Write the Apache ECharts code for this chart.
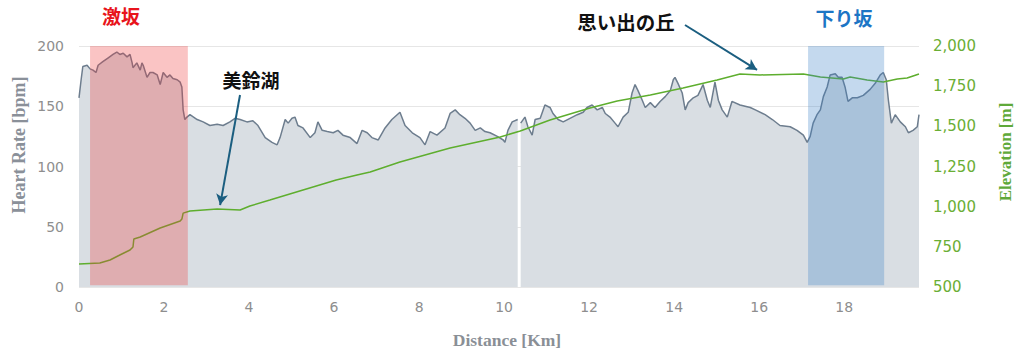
<!DOCTYPE html>
<html>
<head>
<meta charset="utf-8">
<script src="https://cdn.jsdelivr.net/npm/echarts@6/dist/echarts.min.js"></script>
<style>
html,body{margin:0;padding:0;background:#fff;}
#chart{width:1024px;height:357px;}
</style>
</head>
<body>
<div id="chart"></div>
<script>
// Heart rate samples: [distance km, bpm]; null marks the recording gap
var heartRate = [
[0.00,157],[0.05,172],[0.09,183],[0.19,184],[0.26,181],[0.33,180],[0.40,178],[0.45,184],
[0.56,187],[0.68,190],[0.80,193],[0.89,195],[0.96,193],[1.04,194],[1.13,191],[1.20,193],
[1.25,186],[1.27,182],[1.36,186],[1.44,180],[1.48,186],[1.51,184],[1.60,174],[1.67,178],
[1.74,178],[1.84,176],[1.91,168],[1.98,178],[2.07,174],[2.14,176],[2.21,173],[2.31,172],
[2.38,170],[2.42,166],[2.45,147],[2.49,139],[2.54,141],[2.61,143],[2.78,139],[2.92,137],
[3.08,134],[3.25,135],[3.39,134],[3.55,137],[3.67,140],[3.79,139],[3.95,137],[4.09,138],
[4.21,134],[4.38,124],[4.54,120],[4.66,118],[4.73,124],[4.85,139],[4.92,136],[5.01,140],
[5.08,141],[5.15,134],[5.27,132],[5.44,124],[5.55,128],[5.62,137],[5.72,130],[5.84,129],
[5.98,128],[6.09,130],[6.21,126],[6.38,124],[6.54,119],[6.66,130],[6.78,128],[6.89,124],
[7.04,122],[7.20,132],[7.36,139],[7.55,145],[7.67,134],[7.84,128],[8.02,124],[8.14,118],
[8.26,129],[8.42,126],[8.61,132],[8.73,144],[8.85,147],[8.96,143],[9.08,140],[9.20,136],
[9.32,130],[9.44,132],[9.55,129],[9.67,128],[9.84,125],[9.98,122],[10.02,120],[10.09,130],
[10.19,137],[10.32,139],[10.355,null],[10.39,136],[10.49,141],[10.56,133],[10.66,126],
[10.73,139],[10.85,140],[10.96,151],[11.08,149],[11.15,144],[11.27,139],[11.39,137],
[11.55,140],[11.72,143],[11.86,145],[11.95,149],[12.07,151],[12.19,147],[12.31,149],
[12.38,144],[12.49,141],[12.61,136],[12.68,133],[12.80,141],[12.92,145],[13.01,161],
[13.08,168],[13.15,163],[13.25,155],[13.32,149],[13.44,153],[13.55,149],[13.67,154],
[13.79,158],[13.91,163],[13.98,172],[14.02,174],[14.09,169],[14.19,161],[14.26,147],
[14.33,153],[14.45,157],[14.56,159],[14.68,168],[14.78,155],[14.85,149],[14.96,170],
[15.04,155],[15.13,147],[15.25,141],[15.36,154],[15.55,151],[15.79,149],[15.91,147],
[16.14,143],[16.31,139],[16.49,134],[16.73,133],[16.89,130],[17.04,126],[17.13,120],
[17.20,125],[17.27,136],[17.36,143],[17.44,147],[17.51,158],[17.60,166],[17.67,176],
[17.79,177],[17.86,174],[17.95,174],[18.02,166],[18.09,154],[18.19,157],[18.31,157],
[18.45,159],[18.61,164],[18.73,169],[18.85,176],[18.92,178],[18.99,172],[19.04,155],
[19.11,136],[19.20,143],[19.32,137],[19.44,133],[19.51,128],[19.62,130],[19.72,133],
[19.76,143]
];

// Elevation samples: [distance km, metres]
var elevation = [
[0,643],[0.49,649],[0.73,668],[0.96,699],[1.20,730],[1.27,749],[1.29,799],[1.44,811],
[1.91,867],[2.38,911],[2.42,923],[2.45,960],[2.61,973],[3.25,985],[3.79,979],[4.02,1004],
[4.49,1041],[5.27,1104],[6.05,1166],[6.54,1197],[6.85,1216],[7.55,1278],[8.73,1365],
[9.91,1434],[10.38,1471],[11.08,1539],[12.02,1614],[12.66,1658],[13.44,1695],[14.21,1739],
[15.01,1788],[15.55,1826],[16.02,1820],[17.04,1826],[17.44,1807],[17.98,1795],[18.14,1807],
[18.54,1788],[18.92,1776],[19.25,1795],[19.48,1801],[19.76,1826]
];

// Highlighted sections [start km, end km]
var steepSection = [0.26, 2.56];
var downhillSection = [17.15, 18.94];
// Band height on the heart-rate scale [bottom bpm, top bpm]
var bandRange = [1.5, 202.5];

// Annotation targets on the elevation line [km, m]
var lakeTarget = [3.32, 1010];
var hillTarget = [15.95, 1851];

var distanceRange = [0, 19.76];
var hrTicks = [0, 200, 50];
var elevTicks = [500, 2000, 250];

var chart = echarts.init(document.getElementById('chart'), null, {renderer: 'svg'});
var labelFont = '"DejaVu Sans", Verdana, sans-serif';
var jpFont = '"Noto Sans CJK JP", sans-serif';
var serif = '"Liberation Serif", "DejaVu Serif", serif';

chart.setOption({
  animation: false,
  grid: {left: 79, right: 105, top: 46, bottom: 70, containLabel: false},
  xAxis: {
    type: 'value', min: distanceRange[0], max: distanceRange[1], interval: 2,
    axisLine: {show: false}, axisTick: {show: false}, splitLine: {show: false},
    axisLabel: {
      color: '#8e8e8e', fontSize: 14, fontFamily: labelFont, margin: 13,
      formatter: function (v) { return (Math.abs(v % 2) < 1e-9) ? String(v) : ''; }
    }
  },
  yAxis: [{
    type: 'value', min: hrTicks[0], max: hrTicks[1], interval: hrTicks[2],
    axisLine: {show: false}, axisTick: {show: false},
    splitLine: {lineStyle: {color: '#e6e6e6', width: 1}},
    axisLabel: {color: '#8e8e8e', fontSize: 14, fontFamily: labelFont, margin: 15}
  }, {
    type: 'value', min: elevTicks[0], max: elevTicks[1], interval: elevTicks[2],
    position: 'right',
    axisLine: {show: false}, axisTick: {show: false}, splitLine: {show: false},
    axisLabel: {
      color: '#6aae35', fontSize: 15, fontFamily: labelFont, margin: 14,
      formatter: function (v) { return v.toLocaleString('en-US'); }
    }
  }],
  series: [{
    name: 'Heart Rate', type: 'line', data: heartRate, yAxisIndex: 0,
    symbol: 'none', connectNulls: false, z: 2,
    lineStyle: {color: '#6d7d8e', width: 1.5},
    areaStyle: {color: '#d9dee3', opacity: 1},
    markArea: {
      silent: true, z: 6,
      data: [
        [{xAxis: steepSection[0], yAxis: bandRange[0], itemStyle: {color: 'rgba(240,60,60,0.30)'}},
         {xAxis: steepSection[1], yAxis: bandRange[1]}],
        [{xAxis: downhillSection[0], yAxis: bandRange[0], itemStyle: {color: 'rgba(60,130,200,0.30)'}},
         {xAxis: downhillSection[1], yAxis: bandRange[1]}]
      ]
    }
  }, {
    name: 'Elevation', type: 'line', data: elevation, yAxisIndex: 1,
    symbol: 'none', z: 3,
    lineStyle: {color: '#5eae2e', width: 1.5},
    markLine: {
      silent: true, z: 7,
      symbol: ['none', 'arrow'], symbolSize: [9, 11],
      label: {show: false},
      lineStyle: {color: '#1b5e80', width: 2, type: 'solid'},
      data: [
        [{x: 240, y: 95}, {coord: lakeTarget}],
        [{x: 685, y: 25}, {coord: hillTarget}]
      ]
    }
  }],
  graphic: [
    {type: 'text', x: 121, y: 15, style: {text: '激坂', fill: '#e8141c', font: 'bold 19px ' + jpFont, textAlign: 'center', textVerticalAlign: 'middle'}},
    {type: 'text', x: 251, y: 79, style: {text: '美鈴湖', fill: '#111', font: 'bold 19px ' + jpFont, textAlign: 'center', textVerticalAlign: 'middle'}},
    {type: 'text', x: 626, y: 21, style: {text: '思い出の丘', fill: '#111', font: 'bold 19.5px ' + jpFont, textAlign: 'center', textVerticalAlign: 'middle'}},
    {type: 'text', x: 844, y: 17, style: {text: '下り坂', fill: '#1c75c5', font: 'bold 19px ' + jpFont, textAlign: 'center', textVerticalAlign: 'middle'}},
    {type: 'text', x: 19, y: 145, rotation: Math.PI / 2, style: {text: 'Heart Rate [bpm]', fill: '#8a9099', font: 'bold 18px ' + serif, textAlign: 'center', textVerticalAlign: 'middle'}},
    {type: 'text', x: 1005, y: 152, rotation: Math.PI / 2, style: {text: 'Elevation [m]', fill: '#5fa93a', font: 'bold 17px ' + serif, textAlign: 'center', textVerticalAlign: 'middle'}},
    {type: 'text', x: 507, y: 340, style: {text: 'Distance [Km]', fill: '#8a8f96', font: 'bold 17.5px ' + serif, textAlign: 'center', textVerticalAlign: 'middle'}}
  ]
});
</script>
</body>
</html>
